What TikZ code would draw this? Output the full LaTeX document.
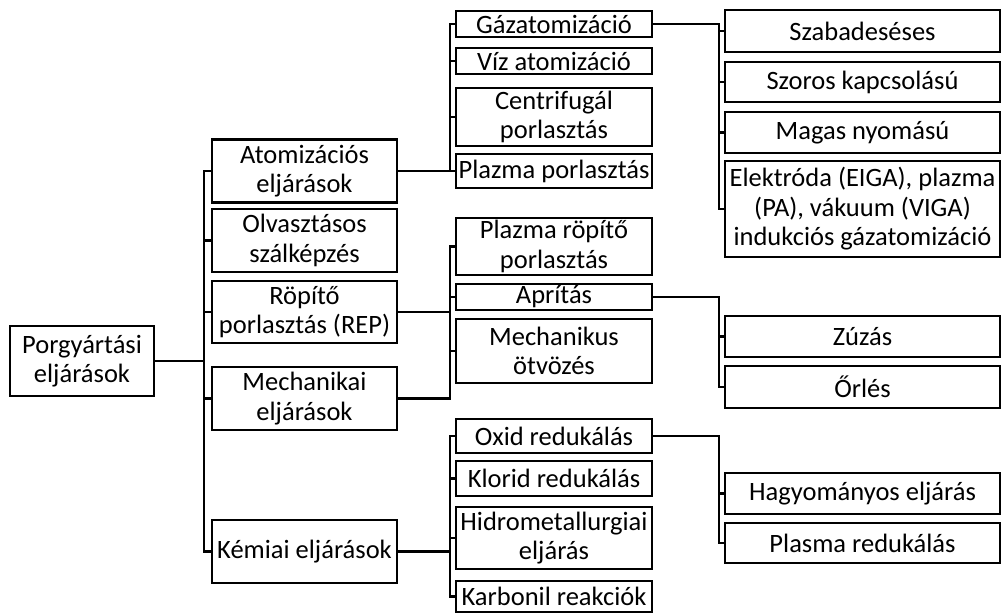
\documentclass[tikz,border=0pt]{standalone}
\usepackage{fontspec}
\setmainfont{Carlito}
\begin{document}
\begin{tikzpicture}[x=1pt,y=-1pt,
  box/.style={draw, line width=2.3pt, inner sep=0pt, align=center, font=\fontsize{26.5}{29.5}\selectfont},
  lone/.style={box, minimum width=144pt},
  lvA/.style={box, minimum width=185pt},
  lvB/.style={box, minimum width=196pt},
  lvC/.style={box, minimum width=275pt},
  link/.style={line width=2.3pt, line join=miter}]
\fill[white] (0,0) rectangle (1003,614);
\useasboundingbox (0,0) rectangle (1003,614);
% level 0
\node[lone, minimum height=70pt] (porg) at (82,361) {Porgyártási\\eljárások};
% level 1
\node[lvA, minimum height=63pt] (atom) at (304.5,171) {Atomizációs\\eljárások};
\node[lvA, minimum height=63pt] (olv) at (304.5,240.5) {Olvasztásos\\szálképzés};
\node[lvA, minimum height=62pt] (rep) at (304.5,312) {Röpítő\\porlasztás (REP)};
\node[lvA, minimum height=63pt] (mech) at (304.5,398.5) {Mechanikai\\eljárások};
\node[lvA, minimum height=63pt] (kem) at (304.5,551.5) {Kémiai eljárások};
% level 2
\node[lvB, minimum height=26pt] (gaz) at (554,24) {Gázatomizáció};
\node[lvB, minimum height=26pt] (viz) at (554,61) {Víz atomizáció};
\node[lvB, minimum height=58pt] (cent) at (554,117) {Centrifugál\\porlasztás};
\node[lvB, minimum height=34pt] (plz) at (554,171) {Plazma porlasztás};
\node[lvB, minimum height=57pt] (plzr) at (554,246.5) {Plazma röpítő\\porlasztás};
\node[lvB, minimum height=26pt] (apr) at (554,297) {Aprítás};
\node[lvB, minimum height=64pt] (motv) at (554,351) {Mechanikus\\ötvözés};
\node[lvB, minimum height=34pt] (oxid) at (554,436) {Oxid redukálás};
\node[lvB, minimum height=35pt] (klor) at (554,478.5) {Klorid redukálás};
\node[lvB, minimum height=62pt] (hidro) at (554,538) {Hidrometallurgiai\\eljárás};
\node[lvB, minimum height=31pt] (karb) at (554,596.5) {Karbonil reakciók};
% level 3
\node[lvC, minimum height=42pt] (szab) at (862.5,31) {Szabadeséses};
\node[lvC, minimum height=40pt] (szor) at (862.5,82) {Szoros kapcsolású};
\node[lvC, minimum height=41pt] (mag) at (862.5,132.5) {Magas nyomású};
\node[lvC, minimum height=96pt] (elek) at (862.5,209) {Elektróda (EIGA), plazma\\(PA), vákuum (VIGA)\\indukciós gázatomizáció};
\node[lvC, minimum height=41pt] (zuz) at (862.5,336.5) {Zúzás};
\node[lvC, minimum height=42pt] (orl) at (862.5,387) {Őrlés};
\node[lvC, minimum height=41pt] (hagy) at (862.5,493.5) {Hagyományos eljárás};
\node[lvC, minimum height=40pt] (plred) at (862.5,543) {Plasma redukálás};
% connectors level 0 -> 1
\foreach \c in {atom,olv,rep,mech,kem}
  \draw[link] (porg.east) -| ([xshift=-7pt]\c.west) -- (\c.west);
% level 1 -> 2
\foreach \c in {gaz,viz,cent,plz}
  \draw[link] (atom.east) -| ([xshift=-5pt]\c.west) -- (\c.west);
\foreach \c in {plzr,apr,motv}
  \draw[link] (rep.east) -| ([xshift=-5pt]\c.west) -- (\c.west);
\foreach \c in {plzr,apr,motv}
  \draw[link] (mech.east) -| ([xshift=-5pt]\c.west) -- (\c.west);
\foreach \c in {oxid,klor,hidro,karb}
  \draw[link] (kem.east) -| ([xshift=-5pt]\c.west) -- (\c.west);
% level 2 -> 3
\foreach \c in {szab,szor,mag,elek}
  \draw[link] (gaz.east) -| ([xshift=-5pt]\c.west) -- (\c.west);
\foreach \c in {zuz,orl}
  \draw[link] (apr.east) -| ([xshift=-5pt]\c.west) -- (\c.west);
\foreach \c in {hagy,plred}
  \draw[link] (oxid.east) -| ([xshift=-5pt]\c.west) -- (\c.west);
\end{tikzpicture}
\end{document}
